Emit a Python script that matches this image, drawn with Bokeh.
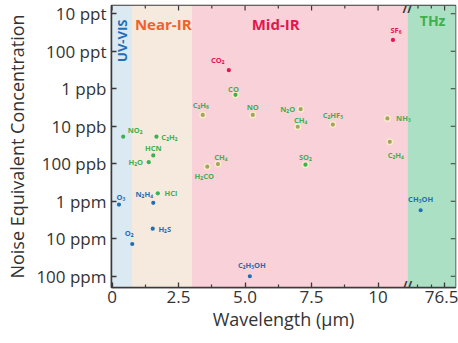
import numpy as np
from bokeh.plotting import figure
from bokeh.models import Range1d, FixedTicker, ColumnDataSource, Label
from bokeh.core.properties import value
from bokeh.embed import file_html
from bokeh.resources import INLINE

# ---------------- data ----------------
molecules = ["NO₂", "C₂H₂", "HCN", "H₂O", "HCl",
             "O₃", "N₂H₄", "H₂S", "O₂",
             "CO₂", "SF₆",
             "C₂H₆", "CO", "NO", "CH₄", "H₂CO", "N₂O", "CH₄", "C₂HF₅", "NH₃", "C₂H₄", "SO₂",
             "C₂H₅OH", "CH₃OH"]
wavelength_um = [0.42, 1.67, 1.55, 1.38, 1.72,
                 0.26, 1.55, 1.53, 0.76,
                 4.39, 10.56,
                 3.41, 4.64, 5.29, 3.98, 3.58, 7.09, 6.98, 8.30, 10.35, 10.44, 7.27,
                 5.18, 75.6]
nec_ppb = [19, 19, 60, 91, 615,
           1230, 1100, 5400, 13800,
           0.32, 0.05,
           5.0, 1.45, 5.0, 102, 120, 3.5, 10.3, 9.0, 6.2, 26, 106,
           100000, 1740]
group = ["nir", "nir", "nir", "nir", "nir",
         "blue", "blue", "blue", "blue",
         "red", "red",
         "mir", "mirg", "mir", "mir", "mir", "mir", "mir", "mir", "mir", "mir", "mirg",
         "blue", "blue"]

region_names = ["UV-VIS", "Near-IR", "Mid-IR", "THz"]
region_start_um = [0.0, 0.75, 3.0, 75.1]
region_end_um = [0.75, 3.0, 11.1, 77.0]

x_major_um = [0, 2.5, 5.0, 7.5, 10, 76.5]
x_major_labels = ["0", "2.5", "5.0", "7.5", "10", "76.5"]
x_minor_um = [1.25, 3.75, 6.25, 8.75, 75.5, 76.0]

y_ticks_ppb = [0.01, 0.1, 1, 10, 100, 1000, 1e4, 1e5]
y_tick_labels = ["10 ppt", "100 ppt", "1 ppb", "10 ppb", "100 ppb", "1 ppm", "10 ppm", "100 ppm"]

# ---------------- broken x axis mapping ----------------
BREAK = 11.1
THZ_SHIFT = 64.0

def xmap(w):
    w = np.asarray(w, dtype=float)
    return np.where(w <= BREAK + 0.001, w, w - THZ_SHIFT)

def ymap(c):
    return np.log10(np.asarray(c, dtype=float))

X0, X1 = -0.02, 12.91
Y0, Y1 = 5.30, -2.22

# styles
dot_color = {"nir": "#3db04f", "blue": "#1f6fb6", "red": "#e3174f", "mir": "#a7a264", "mirg": "#3db04f"}
text_color = {"nir": "#3db04f", "blue": "#1f6fb6", "red": "#e3174f", "mir": "#3db04f", "mirg": "#3db04f"}
lbl_dx = [12, 13, 0, -13, 13,
          2, -9, 12, -3,
          -11, 3,
          -2, -2, 0, 3, -3, -13, 3, 0, 16, 6, 0,
          2, 0]
lbl_dy = [-7, 0, -7, 0, 0,
          -8, -9, 0, -11,
          -10, -10,
          -10, -6, -8, -7, 9, 0, -7, -10, 0, 13, -8,
          -11, -11]

FONT = "Open Sans"
AX = "#3a3a3a"

p = figure(width=458, height=343, output_backend="svg", toolbar_location=None,
           x_range=Range1d(X0, X1), y_range=Range1d(Y0, Y1),
           min_border_left=111, min_border_right=3, min_border_top=5, min_border_bottom=56)
p.background_fill_color = "white"
p.border_fill_color = "white"
p.outline_line_color = AX
p.outline_line_width = 1.5
p.xgrid.visible = False
p.ygrid.visible = False

# background bands
band_colors = ["#dbe9f3", "#f6eadf", "#f9d1d9", "#ace0c4"]
p.quad(left=xmap(region_start_um), right=xmap(region_end_um), bottom=Y0, top=Y1,
       fill_color=band_colors, line_color=None)

# region labels
lab_kw = dict(text_font=FONT, text_font_style="bold", text_baseline="middle")
p.add_layout(Label(x=0.36, y=-1.28, text=region_names[0], angle=np.pi / 2, text_align="center",
                   text_color="#1f6fb6", text_font_size="13px", **lab_kw))
p.add_layout(Label(x=0.86, y=-1.72, text=region_names[1], text_align="left",
                   text_color="#f0622c", text_font_size="15px", **lab_kw))
p.add_layout(Label(x=6.15, y=-1.72, text=region_names[2], text_align="center",
                   text_color="#e3174f", text_font_size="15px", **lab_kw))
p.add_layout(Label(x=12.05, y=-1.83, text=region_names[3], text_align="center",
                   text_color="#3db04f", text_font_size="14px", **lab_kw))

src = ColumnDataSource(dict(
    x=xmap(wavelength_um), y=ymap(nec_ppb), name=molecules,
    dc=[dot_color[g] for g in group], tc=[text_color[g] for g in group],
    dx=lbl_dx, dy=lbl_dy,
    halo=["#f3efc6" if g in ("mir", "mirg") else None for g in group],
))

p.scatter("x", "y", source=src, size=7, fill_color="halo", line_color=None, fill_alpha=0.95)
p.scatter("x", "y", source=src, size=4.2, fill_color="dc", line_color=None)
p.text("x", "y", text="name", source=src, x_offset="dx", y_offset="dy",
       text_color="tc", text_font=value(FONT), text_font_style="bold",
       text_font_size="7.5px", text_align="center", text_baseline="middle")

# axes
xt = [float(v) for v in xmap(x_major_um)]
xm = [float(v) for v in xmap(x_minor_um)]
yt = [float(round(v, 6)) for v in ymap(y_ticks_ppb)]

p.xaxis.ticker = FixedTicker(ticks=xt, minor_ticks=xm)
p.xaxis.major_label_overrides = {t: l for t, l in zip(xt, x_major_labels)}
p.yaxis.ticker = FixedTicker(ticks=yt, minor_ticks=[])
p.yaxis.major_label_overrides = {t: l for t, l in zip(yt, y_tick_labels)}

for ax in (p.xaxis[0], p.yaxis[0]):
    ax.axis_line_color = AX
    ax.axis_line_width = 1.5
    ax.major_tick_line_color = AX
    ax.minor_tick_line_color = AX
    ax.major_tick_line_width = 1.3
    ax.minor_tick_line_width = 1.2
    ax.major_tick_in = 5
    ax.major_tick_out = 0
    ax.minor_tick_in = 3
    ax.minor_tick_out = 0
    ax.major_label_text_font = FONT
    ax.major_label_text_font_size = "17px"
    ax.major_label_text_color = "#333333"
    ax.axis_label_text_font = FONT
    ax.axis_label_text_font_size = "18px"
    ax.axis_label_text_font_style = "normal"
    ax.axis_label_text_color = "#333333"

p.xaxis.axis_label = "Wavelength (µm)"
p.yaxis.axis_label = "Noise Equivalent Concentration"
p.xaxis.major_label_standoff = 3
p.xaxis.axis_label_standoff = 1
p.yaxis.major_label_standoff = 5
p.yaxis.axis_label_standoff = 4

# inward ticks on the top and right frame edges
tx = xt + xm
tlen = [0.13] * len(xt) + [0.08] * len(xm)
p.segment(x0=tx, x1=tx, y0=[Y1] * len(tx), y1=[Y1 + t for t in tlen], line_color=AX, line_width=1.2)
p.segment(x0=[X1] * len(yt), x1=[X1 - 0.18] * len(yt), y0=yt, y1=yt, line_color=AX, line_width=1.2)

# axis break marks
bx = float(xmap([BREAK])[0])
for yy in (Y0 - 0.05, Y1 + 0.09):
    p.add_layout(Label(x=bx, y=yy, text="//", text_align="center", text_baseline="middle",
                       text_color=AX, text_font=FONT, text_font_size="12px",
                       text_font_style="bold"))

open("out.html", "w").write(file_html(p, INLINE))
